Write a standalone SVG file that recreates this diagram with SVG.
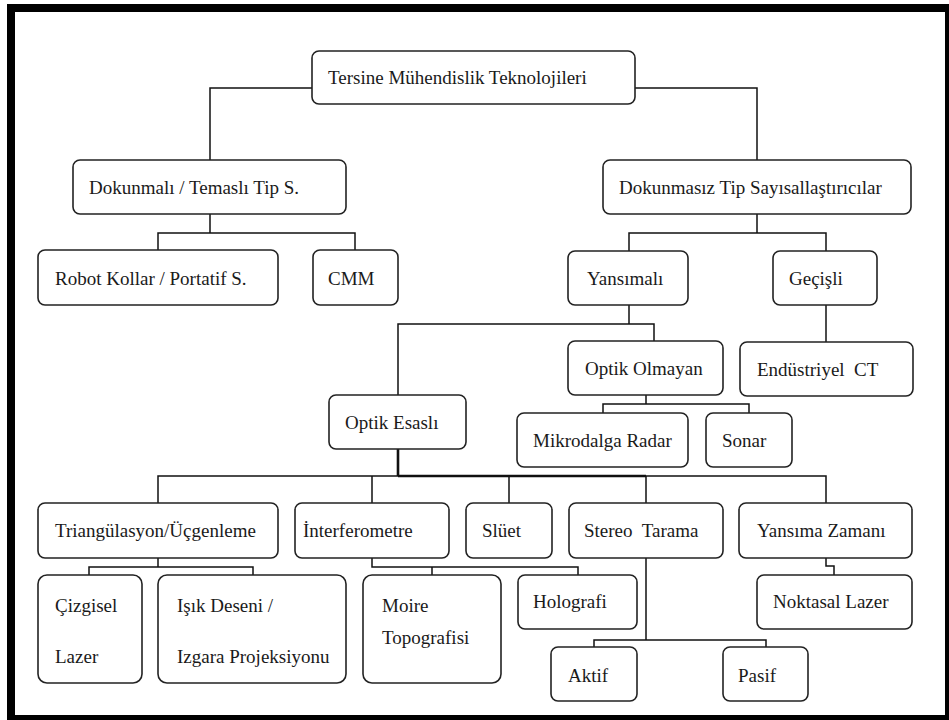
<svg xmlns="http://www.w3.org/2000/svg" width="949" height="720" viewBox="0 0 949 720">
  <style>
    .box { fill: #ffffff; stroke: #222222; stroke-width: 1.6; }
    .lbl { fill: #1a1a1a; white-space: pre; }
    .wire { fill: none; stroke: #111111; stroke-width: 1.5; }
    .wire-bold { fill: none; stroke: #111111; stroke-width: 2.6; }
  </style>
  <rect x="0" y="0" width="949" height="720" fill="#ffffff"/>
  <!-- outer frame -->
  <rect x="11" y="8" width="938" height="711" fill="none" stroke="#000000" stroke-width="8"/>

  <g id="connectors">
    <path class="wire" d="M312,88 H210 V160"/>
    <path class="wire" d="M635,88 H757 V160"/>
    <path class="wire" d="M210,214 V233 M158,250 V233 H355 V250"/>
    <path class="wire" d="M757,214 V233 M629,251 V233 H826 V251"/>
    <path class="wire" d="M629,305 V324 M398,395 V324 H654 V341"/>
    <path class="wire" d="M826,305 V342"/>
    <path class="wire" d="M646,395 V404 M603,413 V404 H749 V413"/>
    <path class="wire-bold" d="M398,449 V476 M398,476 H646"/>
    <path class="wire" d="M158,503 V476 H826 V503 M372,476 V503 M509,476 V503 M646,476 V503"/>
    <path class="wire" d="M158,558 V567 M89,575 V567 H253 V575"/>
    <path class="wire" d="M372,558 V567 H578 V575 M432,567 V575"/>
    <path class="wire" d="M646,558 V640 M594,647 V640 H766 V647"/>
    <path class="wire" d="M826,558 V566 H834 V575"/>
  </g>

  <g id="nodes" font-family="Liberation Serif, Times New Roman, serif" font-size="19">
  <g id="n-root"><rect class="box" x="312" y="51" width="323" height="53" rx="7"/><text class="lbl" x="328" y="84">Tersine Mühendislik Teknolojileri</text></g>
  <g id="n-dokunmali"><rect class="box" x="73" y="160" width="273" height="54" rx="7"/><text class="lbl" x="89" y="194">Dokunmalı / Temaslı Tip S.</text></g>
  <g id="n-dokunmasiz"><rect class="box" x="603" y="160" width="308" height="54" rx="7"/><text class="lbl" x="619" y="194">Dokunmasız Tip Sayısallaştırıcılar</text></g>
  <g id="n-robot"><rect class="box" x="38" y="250" width="240" height="55" rx="7"/><text class="lbl" x="55" y="285">Robot Kollar / Portatif S.</text></g>
  <g id="n-cmm"><rect class="box" x="313" y="250" width="85" height="55" rx="7"/><text class="lbl" x="328" y="285">CMM</text></g>
  <g id="n-yansimali"><rect class="box" x="568" y="251" width="120" height="54" rx="7"/><text class="lbl" x="587" y="285">Yansımalı</text></g>
  <g id="n-gecisli"><rect class="box" x="773" y="251" width="104" height="54" rx="7"/><text class="lbl" x="789" y="285">Geçişli</text></g>
  <g id="n-optik-olmayan"><rect class="box" x="568" y="341" width="155" height="54" rx="7"/><text class="lbl" x="585" y="375">Optik Olmayan</text></g>
  <g id="n-endustriyel"><rect class="box" x="740" y="342" width="173" height="54" rx="7"/><text class="lbl" x="757" y="376">Endüstriyel  CT</text></g>
  <g id="n-optik-esasli"><rect class="box" x="329" y="395" width="137" height="54" rx="7"/><text class="lbl" x="345" y="429">Optik Esaslı</text></g>
  <g id="n-mikrodalga"><rect class="box" x="517" y="413" width="171" height="54" rx="7"/><text class="lbl" x="533" y="447">Mikrodalga Radar</text></g>
  <g id="n-sonar"><rect class="box" x="706" y="413" width="86" height="54" rx="7"/><text class="lbl" x="722" y="447">Sonar</text></g>
  <g id="n-triangulasyon"><rect class="box" x="38" y="503" width="240" height="55" rx="7"/><text class="lbl" x="55" y="537">Triangülasyon/Üçgenleme</text></g>
  <g id="n-interferometre"><rect class="box" x="295" y="503" width="154" height="55" rx="7"/><text class="lbl" x="303" y="537">İnterferometre</text></g>
  <g id="n-sluet"><rect class="box" x="466" y="503" width="86" height="55" rx="7"/><text class="lbl" x="482" y="537">Slüet</text></g>
  <g id="n-stereo"><rect class="box" x="569" y="503" width="154" height="55" rx="7"/><text class="lbl" x="584" y="537">Stereo  Tarama</text></g>
  <g id="n-yansima-zamani"><rect class="box" x="739" y="503" width="173" height="55" rx="7"/><text class="lbl" x="757" y="537">Yansıma Zamanı</text></g>
  <g id="n-cizgisel"><rect class="box" x="38" y="575" width="104" height="108" rx="9"/><text class="lbl" x="55" y="612">Çizgisel</text><text class="lbl" x="55" y="663">Lazer</text></g>
  <g id="n-isik"><rect class="box" x="158" y="575" width="188" height="108" rx="9"/><text class="lbl" x="177" y="612">Işık Deseni /</text><text class="lbl" x="177" y="663">Izgara Projeksiyonu</text></g>
  <g id="n-moire"><rect class="box" x="363" y="575" width="138" height="108" rx="9"/><text class="lbl" x="382" y="612">Moire</text><text class="lbl" x="382" y="644">Topografisi</text></g>
  <g id="n-holografi"><rect class="box" x="518" y="575" width="119" height="54" rx="7"/><text class="lbl" x="533" y="608">Holografi</text></g>
  <g id="n-noktasal"><rect class="box" x="757" y="575" width="155" height="54" rx="7"/><text class="lbl" x="773" y="608">Noktasal Lazer</text></g>
  <g id="n-aktif"><rect class="box" x="551" y="647" width="86" height="54" rx="7"/><text class="lbl" x="568" y="682">Aktif</text></g>
  <g id="n-pasif"><rect class="box" x="723" y="647" width="85" height="54" rx="7"/><text class="lbl" x="738" y="682">Pasif</text></g>
  </g>
</svg>
